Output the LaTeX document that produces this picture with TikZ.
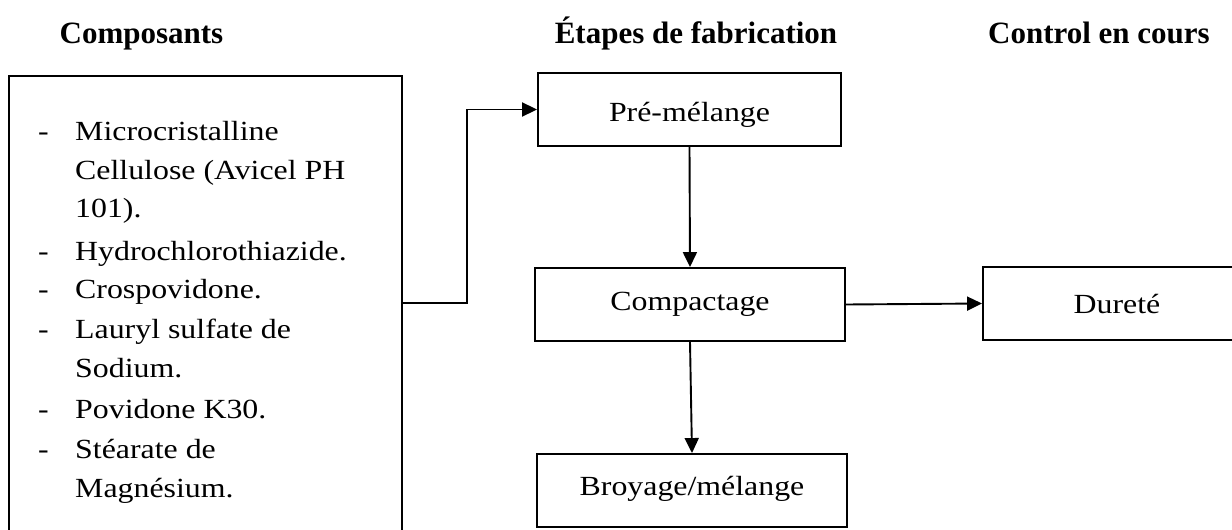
\documentclass[tikz,border=0pt]{standalone}
\usepackage{fontspec}
\setmainfont{Liberation Serif}[FakeStretch=1.15]
\newfontfamily\headfont{Liberation Serif}
\usetikzlibrary{arrows.meta}
\begin{document}
\begin{tikzpicture}[x=1pt,y=-1pt,
  box/.style={draw,line width=1.9pt,minimum height=73pt,inner sep=0pt,text depth=0pt,
    font=\fontsize{27.7}{33}\selectfont},
  item/.style={anchor=base west,inner sep=0pt,font=\fontsize{27.7}{33}\selectfont},
  head/.style={anchor=base,inner sep=0pt,font=\headfont\fontsize{31}{36}\selectfont\bfseries},
  arr/.style={line width=1.9pt,-{Triangle[length=15pt,width=14pt]}}]
\useasboundingbox (0,0) rectangle (1232,530);
\clip (0,0) rectangle (1232,530);
% headings
\node[head] (h1) at (141.5,43) {Composants};
\node[head] (h2) at (696,43) {Étapes de fabrication};
\node[head] (h3) at (1099,43) {Control en cours};
% left box
\node[box,minimum width=393pt,minimum height=466pt] (comp0) at (205.5,309) {};
\foreach \y/\n in {140/d1,260/d2,298/d3,338/d4,418/d5,458/d6}
  \node[item] (\n) at (38,\y) {-};
\node[item] (t1) at (75,140) {Microcristalline};
\node[item] (t2) at (75,179) {Cellulose (Avicel PH};
\node[item] (t3) at (75,217) {101).};
\node[item] (t4) at (75,260) {Hydrochlorothiazide.};
\node[item] (t5) at (75,298) {Crospovidone.};
\node[item] (t6) at (75,338) {Lauryl sulfate de};
\node[item] (t7) at (75,377) {Sodium.};
\node[item] (t8) at (75,418) {Povidone K30.};
\node[item] (t9) at (75,458) {Stéarate de};
\node[item] (t10) at (75,497) {Magnésium.};
% process boxes
\node[box,minimum width=303pt,text height=24pt] (pre) at (689.5,109.5) {Pré-mélange};
\node[box,minimum width=310pt,text height=11pt] (cpt) at (690,304.5) {Compactage};
\node[box,minimum width=310pt,text height=9pt] (bro) at (692,490.5) {Broyage/mélange};
\node[box,minimum width=268pt,text height=19pt] (dur) at (1117,303.5) {Dureté};
% connectors
\coordinate (k1) at (467,303);
\draw[arr] (comp0.east |- k1) -- (k1) |- (pre.west);
\draw[arr] (pre.south) -- (cpt.north);
\draw[arr] (cpt.south) -- (bro.north);
\draw[arr] (cpt.east) -- (dur.west);
\end{tikzpicture}
\end{document}
